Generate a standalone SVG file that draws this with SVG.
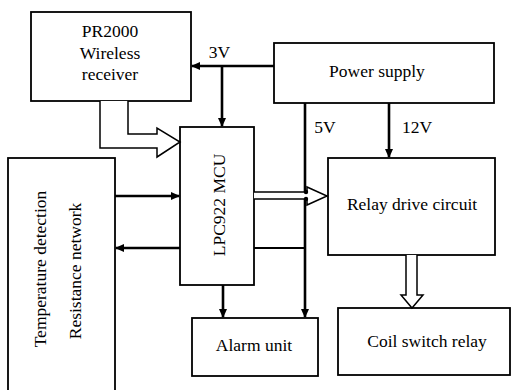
<svg xmlns="http://www.w3.org/2000/svg" width="512" height="390" viewBox="0 0 512 390">
<style>
.box{fill:#fff;stroke:#000;stroke-width:1.8}
.t{font-family:"Liberation Serif","Times New Roman",serif;font-size:17.5px;fill:#000;text-anchor:middle}
.w{fill:none;stroke:#000;stroke-width:2.6}
.h{fill:#fff;stroke:#000;stroke-width:1.5;stroke-linejoin:miter}
</style>
<defs>
<marker id="ah" markerWidth="9" markerHeight="8" refX="8" refY="4" orient="auto" markerUnits="userSpaceOnUse">
<path d="M0,0 L9,4 L0,8 z" fill="#000"/>
</marker>
</defs>
<rect width="512" height="390" fill="#fff"/>
<g id="pr2000">
<rect class="box" x="31" y="12" width="160" height="89"/>
<text class="t" x="110" y="37">PR2000</text>
<text class="t" x="110" y="59">Wireless</text>
<text class="t" x="110" y="80">receiver</text>
</g>
<g id="power">
<rect class="box" x="274" y="43" width="220" height="60"/>
<text class="t" x="377" y="77">Power supply</text>
</g>
<g id="mcu">
<rect class="box" x="180" y="127" width="74" height="158"/>
<text class="t" transform="translate(225,205) rotate(-90)">LPC922 MCU</text>
</g>
<g id="temp">
<rect class="box" x="8" y="158" width="107" height="240"/>
<text class="t" transform="translate(46,269) rotate(-90)">Temperature detection</text>
<text class="t" transform="translate(81,271) rotate(-90)">Resistance network</text>
</g>
<g id="relay">
<rect class="box" x="328" y="158" width="167" height="97"/>
<text class="t" x="412" y="210">Relay drive circuit</text>
</g>
<g id="alarm">
<rect class="box" x="192" y="318" width="126" height="58"/>
<text class="t" x="254" y="351">Alarm unit</text>
</g>
<g id="coil">
<rect class="box" x="338" y="308" width="172" height="67"/>
<text class="t" x="427" y="347">Coil switch relay</text>
</g>
<g id="connectors">
<line class="w" x1="274" y1="66" x2="192" y2="66" marker-end="url(#ah)"/>
<line class="w" x1="222" y1="66" x2="222" y2="126" marker-end="url(#ah)"/>
<line class="w" x1="305" y1="103" x2="305" y2="317" marker-end="url(#ah)"/>
<line class="w" x1="389" y1="103" x2="389" y2="157" marker-end="url(#ah)"/>
<line class="w" x1="223" y1="285" x2="223" y2="317" marker-end="url(#ah)"/>
<line class="w" x1="115" y1="196" x2="179" y2="196" marker-end="url(#ah)"/>
<line class="w" x1="180" y1="248" x2="116" y2="248" marker-end="url(#ah)"/>
<line x1="254" y1="248" x2="305" y2="248" stroke="#000" stroke-width="1.8"/>
<path class="h" d="M128,101 V134 H157 V128 L180,142 L157,157 V148 H100 V101"/>
<path class="h" d="M254,192 H307 V187 L327,196 L307,205 V199 H254"/>
<circle cx="306" cy="192" r="2.2" fill="#000"/>
<circle cx="306" cy="199" r="2.2" fill="#000"/>
<path class="h" d="M406,255 V295 H401 L412,308 L423,295 H417 V255"/>
<text class="t" x="219.5" y="58">3V</text>
<text class="t" x="325" y="133">5V</text>
<text class="t" x="417" y="133">12V</text>
</g>
</svg>
